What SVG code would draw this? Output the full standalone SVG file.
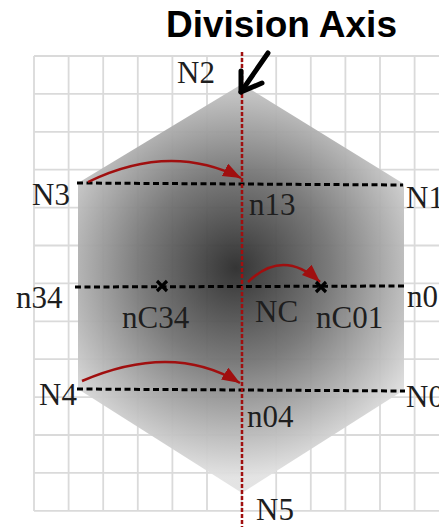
<svg xmlns="http://www.w3.org/2000/svg" width="439" height="527" viewBox="0 0 439 527">
<style>
.grid line{stroke:#dadada;stroke-width:1.8}
.lbl{font-family:"Liberation Serif","Times New Roman",serif;font-size:31px;fill:#1e1e1e}
.dot{stroke:#000;stroke-width:3;stroke-dasharray:6 3.5;fill:none}
.red{stroke:#a00f0f;stroke-width:2.5;fill:none;marker-end:url(#rh)}
.xm{stroke:#000;stroke-width:3.2;stroke-linecap:butt}
</style>
<defs>
<radialGradient id="hg" gradientUnits="userSpaceOnUse" cx="236" cy="268" r="210">
<stop offset="0" stop-color="#2a2a2a"/>
<stop offset="0.45" stop-color="#747474"/>
<stop offset="1" stop-color="#e2e2e2"/>
</radialGradient>
<marker id="rh" markerUnits="userSpaceOnUse" markerWidth="20" markerHeight="16" refX="18" refY="7" orient="auto" viewBox="0 0 20 16">
<path d="M0,0 L18,7 L0,14 Z" fill="#a00f0f"/>
</marker>
</defs>
<rect width="439" height="527" fill="#fff"/>
<g class="grid">
<line x1="34" y1="56" x2="34" y2="511"/>
<line x1="68.6" y1="56" x2="68.6" y2="511"/>
<line x1="103.2" y1="56" x2="103.2" y2="511"/>
<line x1="137.8" y1="56" x2="137.8" y2="511"/>
<line x1="172.4" y1="56" x2="172.4" y2="511"/>
<line x1="207" y1="56" x2="207" y2="511"/>
<line x1="241.6" y1="56" x2="241.6" y2="511"/>
<line x1="276.2" y1="56" x2="276.2" y2="511"/>
<line x1="310.8" y1="56" x2="310.8" y2="511"/>
<line x1="345.4" y1="56" x2="345.4" y2="511"/>
<line x1="380" y1="56" x2="380" y2="511"/>
<line x1="414.6" y1="56" x2="414.6" y2="511"/>
<line x1="34" y1="56" x2="439" y2="56"/>
<line x1="34" y1="93.9" x2="439" y2="93.9"/>
<line x1="34" y1="131.8" x2="439" y2="131.8"/>
<line x1="34" y1="169.7" x2="439" y2="169.7"/>
<line x1="34" y1="207.6" x2="439" y2="207.6"/>
<line x1="34" y1="245.5" x2="439" y2="245.5"/>
<line x1="34" y1="283.4" x2="439" y2="283.4"/>
<line x1="34" y1="321.3" x2="439" y2="321.3"/>
<line x1="34" y1="359.2" x2="439" y2="359.2"/>
<line x1="34" y1="397.1" x2="439" y2="397.1"/>
<line x1="34" y1="435" x2="439" y2="435"/>
<line x1="34" y1="472.9" x2="439" y2="472.9"/>
<line x1="34" y1="510.8" x2="439" y2="510.8"/>
</g>
<g id="hexagon">
<polygon points="242,84 404,184 404,390 242,493 78,389 78,183" fill="url(#hg)" opacity="0.95"/>
</g>
<g id="connectors">
<line class="dot" x1="77" y1="183" x2="403" y2="185"/>
<line class="dot" x1="75" y1="287" x2="406" y2="286"/>
<line class="dot" x1="77" y1="389" x2="405" y2="391"/>
<line x1="242" y1="52" x2="242" y2="527" stroke="#a00f0f" stroke-width="2.5" stroke-dasharray="4 2"/>
<path class="red" d="M88,182 Q170,142 241,178"/>
<path class="red" d="M248,282 Q283,248 320,282"/>
<path class="red" d="M82,381 Q173,342 240,383"/>
<g stroke="#000" stroke-width="5" fill="none" stroke-linecap="round" stroke-linejoin="round">
<line x1="268" y1="53" x2="241" y2="92"/>
<polyline points="241,71 241,92 262,83"/>
</g>
</g>
<g id="nC34"><path class="xm" d="M157,281 L167,291 M167,281 L157,291"/><text class="lbl" x="122" y="328">nC34</text></g>
<g id="nC01"><path class="xm" d="M316,282 L326,292 M326,282 L316,292"/><text class="lbl" x="316" y="328">nC01</text></g>
<g id="N2"><text class="lbl" x="177" y="83">N2</text></g>
<g id="N3"><text class="lbl" x="32" y="205">N3</text></g>
<g id="N1"><text class="lbl" x="406" y="208">N1</text></g>
<g id="n13"><text class="lbl" x="249" y="215">n13</text></g>
<g id="n34"><text class="lbl" x="16" y="308">n34</text></g>
<g id="NC"><text class="lbl" x="255" y="322">NC</text></g>
<g id="n01"><text class="lbl" x="407" y="307">n0</text></g>
<g id="N4"><text class="lbl" x="39" y="405">N4</text></g>
<g id="N0"><text class="lbl" x="406" y="407">N0</text></g>
<g id="n04"><text class="lbl" x="247" y="427">n04</text></g>
<g id="N5"><text class="lbl" x="256" y="520">N5</text></g>
<g id="title"><text x="166" y="37" font-family="'Liberation Sans',Arial,sans-serif" font-weight="bold" font-size="37" fill="#000">Division Axis</text></g>
</svg>
